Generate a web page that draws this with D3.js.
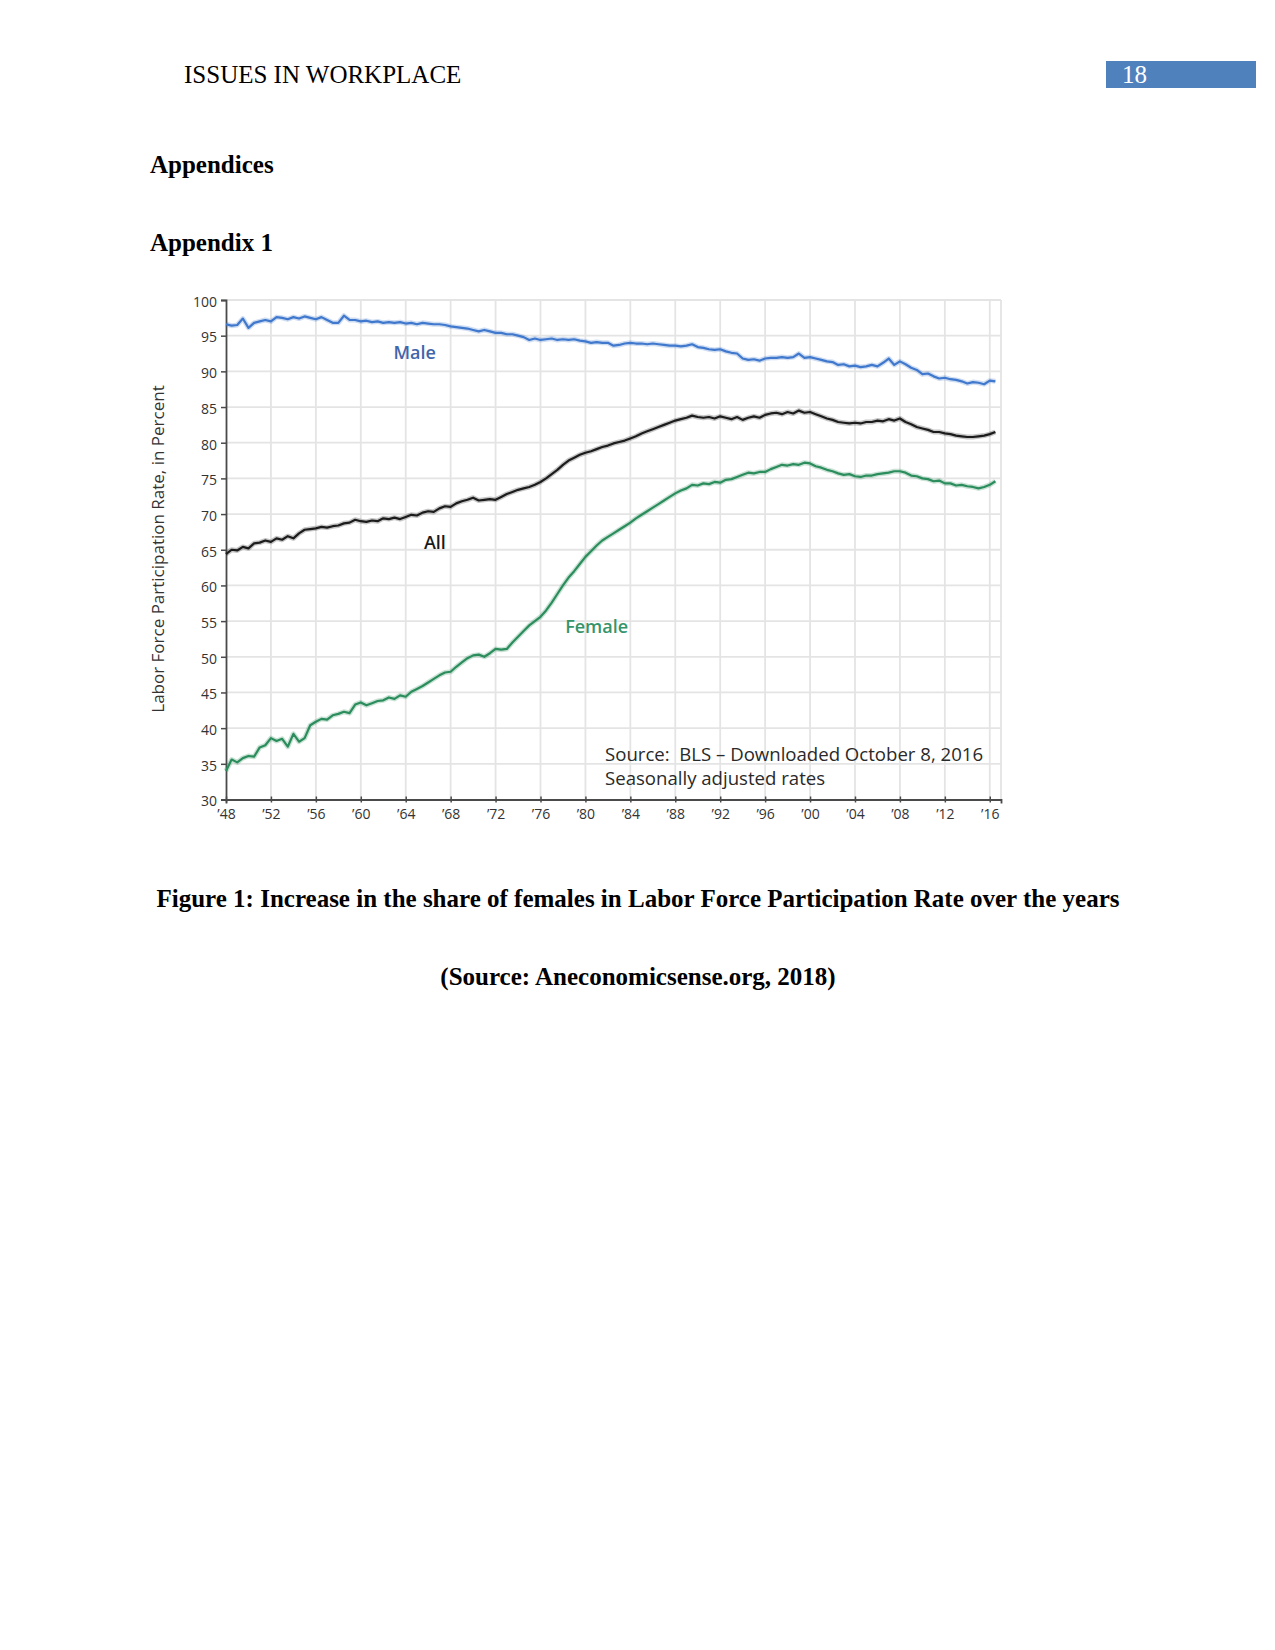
<!DOCTYPE html>
<html>
<head>
<meta charset="utf-8">
<script src="https://cdn.jsdelivr.net/npm/d3@7"></script>
<style>
  body { margin: 0; background: #fff; }
  svg { display: block; }
</style>
</head>
<body>
<div id="page"></div>
<script>
// half-year steps, starting Jan 1948
var startYear = 1948;
var step = 0.5;

// values, two per year (Jan, Jul)
var male = [
  96.6, 96.4, 96.5, 97.4, 96.1, 96.8, 97.0, 97.2, 97.0, 97.6,  // 48-52
  97.5, 97.3, 97.6, 97.4, 97.7, 97.5, 97.3, 97.6, 97.2, 96.8,  // 53-57
  96.8, 97.8, 97.2, 97.2, 97.0, 97.1, 96.9, 97.0, 96.8, 96.9,  // 58-62
  96.8, 96.9, 96.7, 96.8, 96.6, 96.8, 96.7, 96.6, 96.6, 96.5,  // 63-67
  96.3, 96.2, 96.1, 96.0, 95.8, 95.6, 95.8, 95.6, 95.4, 95.4,  // 68-72
  95.2, 95.2, 95.0, 94.8, 94.4, 94.6, 94.4, 94.5, 94.6, 94.4,  // 73-77
  94.5, 94.4, 94.5, 94.3, 94.2, 94.0, 94.1, 94.0, 94.0, 93.6,  // 78-82
  93.7, 93.9, 94.0, 93.9, 93.9, 93.8, 93.9, 93.8, 93.7, 93.6,  // 83-87
  93.6, 93.5, 93.6, 93.8, 93.4, 93.3, 93.1, 93.0, 93.1, 92.8,  // 88-92
  92.6, 92.5, 91.8, 91.6, 91.7, 91.5, 91.8, 91.9, 91.9, 92.0,  // 93-97
  91.9, 92.0, 92.5, 91.9, 92.0, 91.8, 91.6, 91.4, 91.3, 90.9,  // 98-02
  91.0, 90.7, 90.8, 90.6, 90.7, 90.9, 90.7, 91.2, 91.8, 90.9,  // 03-07
  91.4, 91.0, 90.5, 90.2, 89.6, 89.7, 89.3, 89.0, 89.1, 88.9,  // 08-12
  88.8, 88.6, 88.3, 88.5, 88.4, 88.2, 88.7, 88.6               // 13-16
];

var all = [
  64.4, 65.0, 64.9, 65.4, 65.2, 65.9, 66.0, 66.3, 66.1, 66.6,
  66.4, 66.9, 66.6, 67.3, 67.8, 67.9, 68.0, 68.2, 68.1, 68.3,
  68.4, 68.7, 68.8, 69.2, 69.0, 68.9, 69.1, 69.0, 69.4, 69.3,
  69.5, 69.3, 69.6, 69.9, 69.8, 70.2, 70.4, 70.3, 70.8, 71.1,
  71.0, 71.5, 71.8, 72.0, 72.3, 71.9, 72.0, 72.1, 72.0, 72.4,
  72.8, 73.1, 73.4, 73.6, 73.8, 74.1, 74.5, 75.0, 75.6, 76.2,
  76.9, 77.5, 77.9, 78.3, 78.6, 78.8, 79.1, 79.4, 79.6, 79.9,
  80.1, 80.3, 80.6, 80.9, 81.3, 81.6, 81.9, 82.2, 82.5, 82.8,
  83.1, 83.3, 83.5, 83.8, 83.6, 83.5, 83.6, 83.4, 83.7, 83.5,
  83.3, 83.6, 83.2, 83.5, 83.7, 83.5, 83.9, 84.1, 84.2, 84.0,
  84.3, 84.1, 84.5, 84.2, 84.3, 84.0, 83.7, 83.4, 83.2, 82.9,
  82.8, 82.7, 82.8, 82.7, 82.9, 82.9, 83.1, 83.0, 83.3, 83.1,
  83.4, 82.9, 82.6, 82.2, 82.0, 81.8, 81.5, 81.5, 81.3, 81.2,
  81.0, 80.9, 80.8, 80.8, 80.9, 81.0, 81.2, 81.5
];

var female = [
  34.0, 35.6, 35.2, 35.8, 36.1, 36.0, 37.3, 37.6, 38.6, 38.2,
  38.5, 37.4, 39.2, 38.1, 38.6, 40.4, 40.9, 41.3, 41.2, 41.8,
  42.0, 42.3, 42.1, 43.3, 43.6, 43.2, 43.5, 43.8, 43.9, 44.3,
  44.1, 44.6, 44.4, 45.1, 45.5, 45.9, 46.4, 46.9, 47.4, 47.8,
  47.9, 48.6, 49.2, 49.8, 50.2, 50.3, 50.0, 50.5, 51.1, 51.0,
  51.1, 52.0, 52.8, 53.6, 54.4, 55.0, 55.6, 56.5, 57.6, 58.8,
  60.0, 61.1, 62.0, 63.0, 64.0, 64.8, 65.6, 66.3, 66.8, 67.3,
  67.8, 68.3, 68.8, 69.4, 69.9, 70.4, 70.9, 71.4, 71.9, 72.4,
  72.9, 73.3, 73.6, 74.1, 74.0, 74.3, 74.2, 74.5, 74.4, 74.8,
  74.9, 75.2, 75.5, 75.8, 75.7, 75.9, 75.9, 76.3, 76.6, 76.9,
  76.8, 77.0, 76.9, 77.2, 77.1, 76.7, 76.5, 76.2, 76.0, 75.7,
  75.5, 75.6, 75.3, 75.2, 75.4, 75.4, 75.6, 75.7, 75.8, 76.0,
  76.0, 75.8, 75.4, 75.3, 75.0, 74.9, 74.6, 74.7, 74.3, 74.3,
  74.0, 74.1, 73.9, 73.8, 73.6, 73.8, 74.1, 74.6
];

var yearTicks = [1948, 1952, 1956, 1960, 1964, 1968, 1972, 1976, 1980, 1984,
                 1988, 1992, 1996, 2000, 2004, 2008, 2012, 2016];
var pctTicks = [30, 35, 40, 45, 50, 55, 60, 65, 70, 75, 80, 85, 90, 95, 100];

var series = [
  { name: 'Male', values: male, color: '#3f78cc' },
  { name: 'All', values: all, color: '#1c1c1c' },
  { name: 'Female', values: female, color: '#2b8d5c' }
];

var width = 1275, height = 1650;
var serif = '"Liberation Serif", "Times New Roman", serif';
var sans = '"Open Sans", "DejaVu Sans", sans-serif';

var svg = d3.select('#page').append('svg')
    .attr('width', width)
    .attr('height', height);

// ---- document text around the figure ----
svg.append('text')
    .attr('x', 184).attr('y', 83)
    .style('font-family', serif).style('font-size', '25px')
    .text('ISSUES IN WORKPLACE');

svg.append('rect')
    .attr('x', 1106).attr('y', 61).attr('width', 150).attr('height', 27)
    .attr('fill', '#4f81bd');
svg.append('text')
    .attr('x', 1122).attr('y', 83)
    .attr('fill', '#fff')
    .style('font-family', serif).style('font-size', '25px')
    .text('18');

svg.append('text')
    .attr('x', 150).attr('y', 173)
    .style('font-family', serif).style('font-size', '25px').style('font-weight', 'bold')
    .text('Appendices');
svg.append('text')
    .attr('x', 150).attr('y', 251)
    .style('font-family', serif).style('font-size', '25px').style('font-weight', 'bold')
    .text('Appendix 1');

svg.append('text')
    .attr('x', 638).attr('y', 907)
    .attr('text-anchor', 'middle')
    .style('font-family', serif).style('font-size', '25px').style('font-weight', 'bold')
    .text('Figure 1: Increase in the share of females in Labor Force Participation Rate over the years');
svg.append('text')
    .attr('x', 638).attr('y', 985)
    .attr('text-anchor', 'middle')
    .style('font-family', serif).style('font-size', '25px').style('font-weight', 'bold')
    .text('(Source: Aneconomicsense.org, 2018)');

// ---- the chart ----
var x = d3.scaleLinear().domain([1948, 2017]).range([226, 1001]);
var y = d3.scaleLinear().domain([30, 100]).range([799.5, 300]);

var chart = svg.append('g').attr('class', 'chart');

// grid
chart.append('g').selectAll('line.v')
    .data(yearTicks.slice(1).concat([2017]))
  .enter().append('line')
    .attr('x1', function(d) { return x(d); })
    .attr('x2', function(d) { return x(d); })
    .attr('y1', y(100)).attr('y2', y(30))
    .attr('stroke', '#e4e4e4').attr('stroke-width', 1.8);
chart.append('g').selectAll('line.h')
    .data(pctTicks.slice(1))
  .enter().append('line')
    .attr('x1', x(1948)).attr('x2', x(2017))
    .attr('y1', function(d) { return y(d); })
    .attr('y2', function(d) { return y(d); })
    .attr('stroke', '#e4e4e4').attr('stroke-width', 1.8);

// axes
var yAxis = d3.axisLeft(y).tickValues(pctTicks).tickSize(5).tickPadding(4);
var xAxis = d3.axisBottom(x).tickValues(yearTicks).tickSize(4).tickPadding(6)
    .tickFormat(function(d) { return '\u2019' + String(d).slice(2); });

var gy = chart.append('g').attr('transform', 'translate(' + x(1948) + ',0)').call(yAxis);
var gx = chart.append('g').attr('transform', 'translate(0,' + y(30) + ')').call(xAxis);

[gy, gx].forEach(function(g) {
  g.select('.domain').attr('stroke', '#4a4a4a').attr('stroke-width', 1.8);
  g.selectAll('.tick line').attr('stroke', '#4a4a4a').attr('stroke-width', 1.5);
  g.selectAll('.tick text')
    .attr('fill', '#333')
    .style('font-family', sans).style('font-size', '14px');
});
// x ticks straddle the axis
gx.selectAll('.tick line').attr('y1', -3).attr('y2', 3);
gy.selectAll('.tick text').attr('dy', '0.45em');

// y title
chart.append('text')
    .attr('transform', 'translate(164,' + 549 + ') rotate(-90)')
    .attr('text-anchor', 'middle')
    .attr('fill', '#333')
    .style('font-family', sans).style('font-size', '17px')
    .text('Labor Force Participation Rate, in Percent');

// lines
var line = d3.line()
    .x(function(d, i) { return x(startYear + i * step); })
    .y(function(d) { return y(d); });

series.forEach(function(s) {
  chart.append('path')
      .datum(s.values)
      .attr('d', line)
      .attr('fill', 'none')
      .attr('stroke', s.color)
      .attr('stroke-opacity', 0.25)
      .attr('stroke-width', 5)
      .attr('stroke-linejoin', 'round');
  chart.append('path')
      .datum(s.values)
      .attr('d', line)
      .attr('fill', 'none')
      .attr('stroke', s.color)
      .attr('stroke-width', 2.2)
      .attr('stroke-linejoin', 'round');
});

// series labels
var labels = [
  { text: 'Male', year: 1964.8, pct: 91.7, color: '#4266aa' },
  { text: 'All', year: 1966.6, pct: 65.1, color: '#1a1a1a' },
  { text: 'Female', year: 1981.0, pct: 53.4, color: '#35946a' }
];
chart.selectAll('text.lbl')
    .data(labels)
  .enter().append('text')
    .attr('x', function(d) { return x(d.year); })
    .attr('y', function(d) { return y(d.pct); })
    .attr('text-anchor', 'middle')
    .attr('fill', function(d) { return d.color; })
    .style('font-family', sans).style('font-size', '18px')
    .style('font-weight', 600)
    .text(function(d) { return d.text; });

// source note
chart.append('text')
    .attr('x', 605).attr('y', 761)
    .attr('fill', '#2a2a2a')
    .style('font-family', sans).style('font-size', '18.6px')
    .style('white-space', 'pre')
    .text('Source:  BLS \u2013 Downloaded October 8, 2016');
chart.append('text')
    .attr('x', 605).attr('y', 785)
    .attr('fill', '#2a2a2a')
    .style('font-family', sans).style('font-size', '18.6px')
    .text('Seasonally adjusted rates');
</script>
</body>
</html>
